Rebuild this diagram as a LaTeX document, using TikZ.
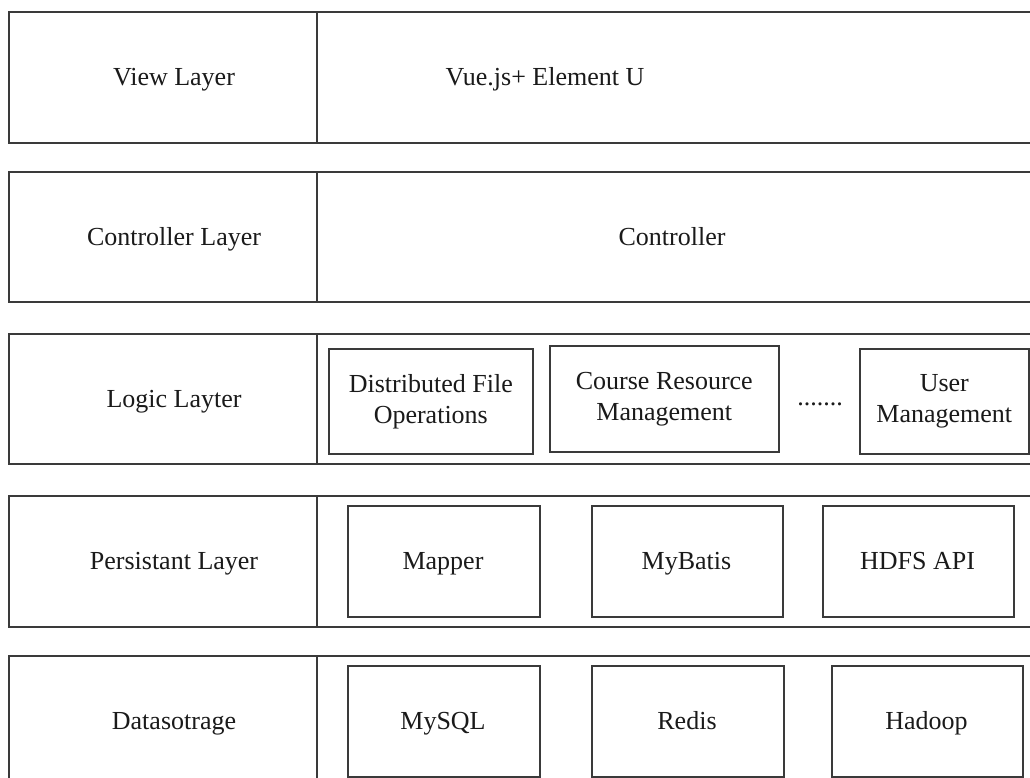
\documentclass[tikz,border=0pt]{standalone}
\usepackage{fontspec}
\setmainfont{Liberation Serif}
\definecolor{lc}{HTML}{3A3A3A}
\definecolor{tc}{HTML}{1A1A1A}
\begin{document}
\begin{tikzpicture}[x=1pt,y=-1pt,
  box/.style={draw=lc, line width=1.6pt, inner sep=0pt, anchor=north west},
  txt/.style={text=tc, font=\fontsize{26}{31}\selectfont, inner sep=0pt, anchor=base},
  mtxt/.style={text=tc, font=\fontsize{26}{31}\selectfont, inner sep=0pt, align=center}]
\path[use as bounding box, clip] (0,0) rectangle (1030,778);
\fill[white] (0,0) rectangle (1030,778);

% Row 1
\node[box, minimum width=308pt, minimum height=131pt] (l1) at (8,11) {};
\node[box, minimum width=740pt, minimum height=131pt] (r1) at (316,11) {};
\node[txt] (t1) at (174,85.5) {View Layer};
\node[txt] (v1) at (545,85.5) {Vue.js+ Element U};

% Row 2
\node[box, minimum width=308pt, minimum height=130pt] (l2) at (8,171) {};
\node[box, minimum width=740pt, minimum height=130pt] (r2) at (316,171) {};
\node[txt] (t2) at (174,245) {Controller Layer};
\node[txt] (v2) at (672,245) {Controller};

% Row 3
\node[box, minimum width=308pt, minimum height=130pt] (l3) at (8,333) {};
\node[box, minimum width=740pt, minimum height=130pt] (r3) at (316,333) {};
\node[txt] (t3) at (174,407) {Logic Layter};
\node[box, minimum width=204pt, minimum height=105pt] (dfo) at (328,348) {};
\node[mtxt] (dfot) at (dfo.center) {Distributed File\\Operations};
\node[box, minimum width=229pt, minimum height=106pt] (crm) at (549,345) {};
\node[mtxt] (crmt) at (crm.center) {Course Resource\\Management};
\node[txt] (dots) at (820,405) {.......};
\node[box, minimum width=169pt, minimum height=105pt] (um) at (859,348) {};
\node[mtxt] (umt) at (um.center) {User\\Management};

% Row 4
\node[box, minimum width=308pt, minimum height=131pt] (l4) at (8,495) {};
\node[box, minimum width=740pt, minimum height=131pt] (r4) at (316,495) {};
\node[txt] (t4) at (174,569.5) {Persistant Layer};
\node[box, minimum width=192pt, minimum height=111pt] (map) at (347,505) {};
\node[txt] (mapt) at (443,569.5) {Mapper};
\node[box, minimum width=191pt, minimum height=111pt] (myb) at (591,505) {};
\node[txt] (mybt) at (686.5,569.5) {MyBatis};
\node[box, minimum width=191pt, minimum height=111pt] (hdfs) at (822,505) {};
\node[txt] (hdfst) at (917.5,569.5) {HDFS API};

% Row 5
\node[box, minimum width=308pt, minimum height=140pt] (l5) at (8,655) {};
\node[box, minimum width=740pt, minimum height=140pt] (r5) at (316,655) {};
\node[txt] (t5) at (174,729) {Datasotrage};
\node[box, minimum width=192pt, minimum height=111pt] (mys) at (347,665) {};
\node[txt] (myst) at (443,729) {MySQL};
\node[box, minimum width=192pt, minimum height=111pt] (red) at (591,665) {};
\node[txt] (redt) at (687,729) {Redis};
\node[box, minimum width=191pt, minimum height=111pt] (had) at (831,665) {};
\node[txt] (hadt) at (926.5,729) {Hadoop};
\end{tikzpicture}
\end{document}
